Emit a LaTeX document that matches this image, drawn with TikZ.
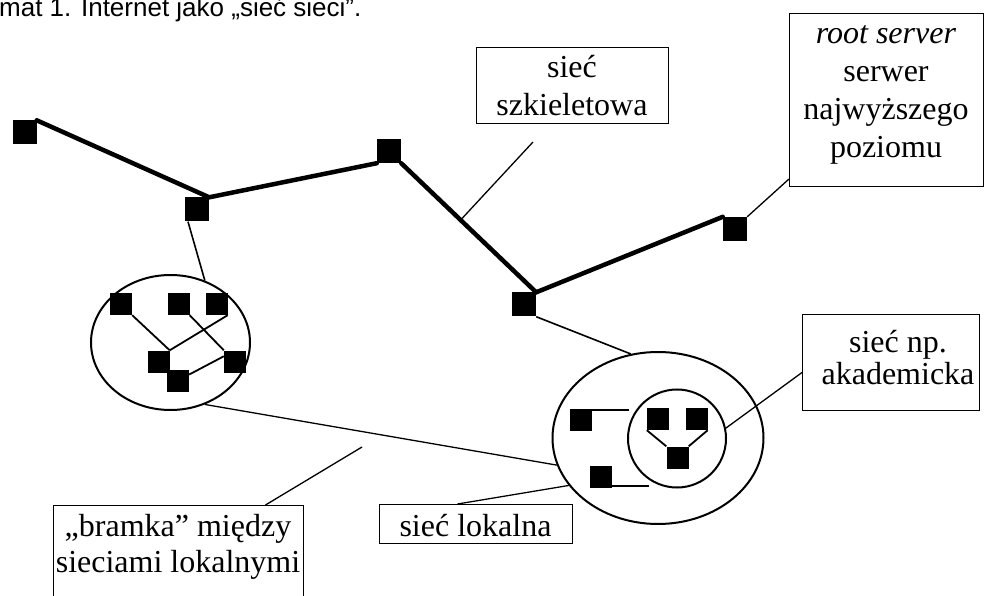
\documentclass[tikz,border=0pt]{standalone}
\usepackage{fontspec}
\setmainfont{Liberation Serif}
\newfontfamily\titlefont{Liberation Sans}
\usetikzlibrary{shapes.geometric,calc}
\newcommand{\ls}{\strut}
\begin{document}
\begin{tikzpicture}[x=1pt,y=-1pt,
  sq/.style={fill=black,minimum size=24pt,inner sep=0pt},
  ssq/.style={fill=black,minimum size=22pt,inner sep=0pt},
  trunk/.style={line width=4.5pt,line join=miter,line cap=round},
  wire/.style={line width=1.8pt},
  pointer/.style={line width=1.3pt},
  lan/.style={ellipse,draw,line width=2pt,inner sep=0pt},
  frame/.style={draw,line width=1pt,inner sep=0pt},
  lbl/.style={align=center,font=\fontsize{32}{38}\selectfont,inner sep=0pt,anchor=north}]
\useasboundingbox (0,0) rectangle (986,596);
\clip (0,0) rectangle (986,596);
\fill[white] (0,0) rectangle (986,596);

% title
\node[anchor=base west,font=\titlefont\fontsize{26}{30}\selectfont,inner sep=0pt] (title) at (-1,17) {mat 1. Internet jako „sieć sieci”.};

% LAN shapes
\node[lan,minimum width=159pt,minimum height=135pt] (L) at (170.5,342.5) {};
\node[lan,minimum width=211pt,minimum height=172pt] (R) at (658,438) {};
\node[lan,minimum width=98pt,minimum height=98pt] (I) at (677,438.5) {};

% backbone routers
\node[sq] (A) at (24.5,132.5) {};
\node[sq] (B) at (197,209.5) {};
\node[sq] (C) at (389,151) {};
\node[sq] (D) at (524,304.5) {};
\node[sq] (E) at (735,229) {};
\draw[trunk] (A.north east) -- (B.north east) -- (C.south west);
\draw[trunk] (C.south east) -- (D.north east) -- (E.north west);

% left LAN
\node[ssq] (s1) at (121,304) {};
\node[ssq] (s2) at (178.5,304) {};
\node[ssq] (s3) at (216.5,304) {};
\node[ssq] (s4) at (158.5,361.5) {};
\node[ssq] (s5) at (235,361.5) {};
\node[ssq] (s6) at (178,381) {};
\draw[wire] (s1.south east) -- (s4.north east);
\draw[wire] (s3.south east) -- (s4.north east);
\draw[wire] (s2.south east) -- (s5.north west);
\draw[wire] (s6.30) -- (s5.155);

% right LAN
\node[ssq] (r1) at (581,419.5) {};
\node[ssq] (r2) at (600.5,476.5) {};
\node[ssq] (i1) at (658,419) {};
\node[ssq] (i2) at (696.5,419) {};
\node[ssq] (i3) at (677.5,457.5) {};
\draw[wire] ([yshift=-2pt]r1.north east) -- ++(37,0);
\draw[wire] ([yshift=1.5pt]r2.south east) -- ++(37,0);
\draw[wire] (i1.south west) -- (i3.north west);
\draw[wire] (i2.south east) -- (i3.north east);

% links between backbone and LANs
\draw[pointer,line width=1.6pt] ([xshift=-9pt]B.south) -- (L.61);
\draw[pointer,line width=1.6pt] (D.south east) -- (R.108);
\draw[pointer] (L.-61) -- (R.195);

% label boxes
\node[frame,minimum width=192pt,minimum height=76pt,anchor=north west] (szbox) at (476,47) {};
\node[lbl] (sztext) at (572,50.4) {\ls sieć\\\ls szkieletowa};

\node[frame,minimum width=194pt,minimum height=173pt,anchor=north west] (rootbox) at (789,13) {};
\node[lbl] (roottext) at (886,16.4) {\ls\textit{root server}\\\ls serwer\\\ls najwyższego\\\ls poziomu};

\node[frame,minimum width=177pt,minimum height=96pt,anchor=north west] (akbox) at (802,314) {};
\node[lbl,font=\fontsize{32}{32}\selectfont] (aktext) at (898,329.6) {\ls sieć np.\\\ls akademicka};

\node[frame,minimum width=250pt,minimum height=120pt,anchor=north west] (brbox) at (53,505) {};
\node[lbl,font=\fontsize{32}{36}\selectfont] (brtext) at (178,511) {\ls„bramka” między\\\ls sieciami lokalnymi};

\node[frame,minimum width=193pt,minimum height=39pt,anchor=north west] (lkbox) at (379,504) {};
\node[lbl] (lktext) at (475.5,509.4) {\ls sieć lokalna};

% pointers
\coordinate (szend) at ($(C.south east)!0.44!(D.north east)$);
\coordinate (szstart) at (533,142);
\draw[pointer] (szstart) -- (szend);
\draw[pointer] (E.north east) -- ([yshift=8pt]rootbox.south west);
\draw[pointer] (I.12) -- ([yshift=-10pt]akbox.west);
\coordinate (brend) at (362,447);
\draw[pointer] ([xshift=87pt]brbox.north) -- (brend);
\draw[pointer] ([xshift=-18.5pt]lkbox.north) -- (R.208);
\end{tikzpicture}
\end{document}
